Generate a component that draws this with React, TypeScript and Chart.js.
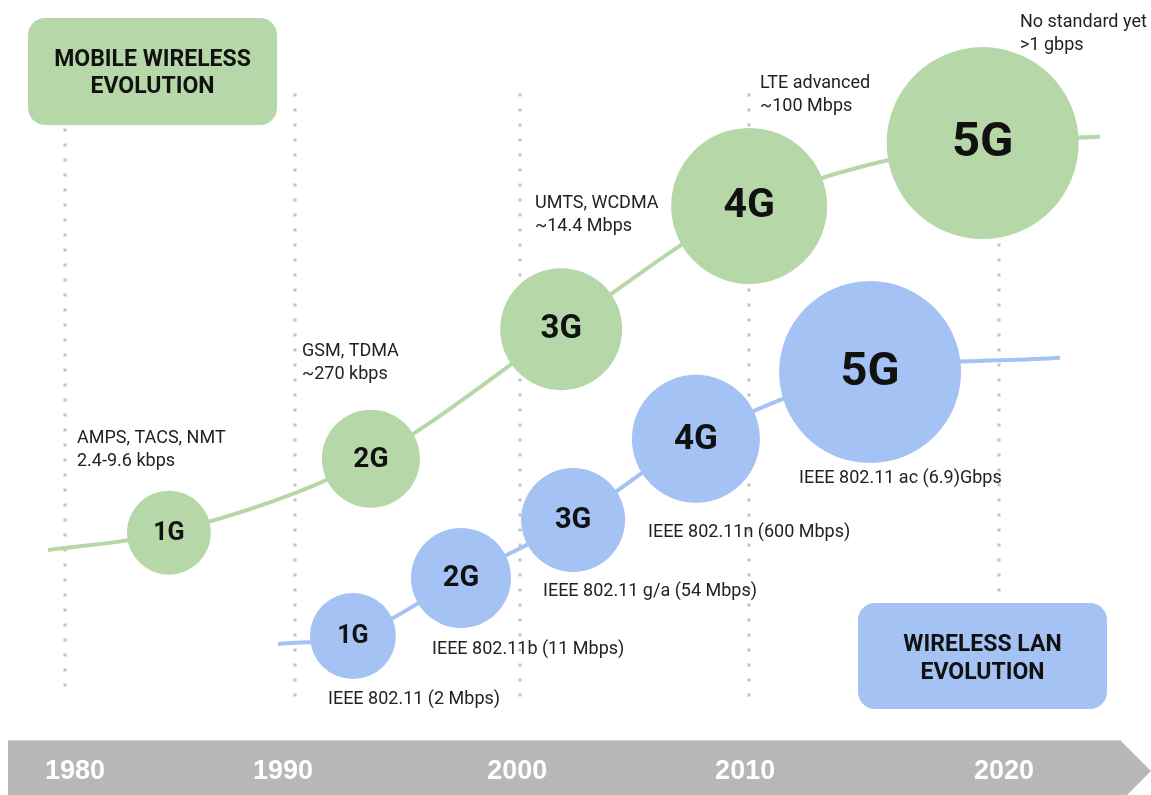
import React, { useEffect, useRef } from "react";
import { Chart, registerables } from "chart.js";

Chart.register(...registerables);

// ---------- DATA ----------
const yearTicks = [1980, 1990, 2000, 2010, 2020];

const mobileGenerations = ["1G", "2G", "3G", "4G", "5G"];
const mobileYears = [1984.45, 1993.1, 2001.25, 2009.3, 2019.3];
const mobileLevels = [33.0, 42.3, 58.6, 74.1, 82.0];
const mobileBubbleSizes = [42, 49, 61, 78, 96];
const mobileStandards = [
  ["AMPS, TACS, NMT", "2.4-9.6 kbps"],
  ["GSM, TDMA", "~270 kbps"],
  ["UMTS, WCDMA", "~14.4 Mbps"],
  ["LTE advanced", "~100 Mbps"],
  ["No standard yet", ">1 gbps"],
];
const mobileCurveYears = [1979.27, ...mobileYears, 2024.33];
const mobileCurveLevels = [30.8, ...mobileLevels, 82.8];

const wlanGenerations = ["1G", "2G", "3G", "4G", "5G"];
const wlanYears = [1992.33, 1996.96, 2001.76, 2007.02, 2014.48];
const wlanLevels = [20.0, 27.3, 34.6, 44.8, 53.2];
const wlanBubbleSizes = [43, 50, 52, 64, 91];
const wlanStandards = [
  "IEEE 802.11 (2 Mbps)",
  "IEEE 802.11b (11 Mbps)",
  "IEEE 802.11 g/a (54 Mbps)",
  "IEEE 802.11n (600 Mbps)",
  "IEEE 802.11 ac (6.9)Gbps",
];
const wlanCurveYears = [1989.12, ...wlanYears, 2022.61];
const wlanCurveLevels = [19.0, ...wlanLevels, 55.0];

// ---------- LAYOUT / STYLE ----------
const W = 1151;
const H = 795;
const GREEN = "#b6d7a8";
const BLUE = "#a4c2f4";
const X_MIN = 1977.216;
const X_MAX = 2026.51;

// guide lines (x in years, from/to in level units)
const guides = [
  { x: 1980, from: 83.6, to: 12.2 },
  { x: 1989.85, from: 88.0, to: 12.2 },
  { x: 1999.5, from: 88.0, to: 12.2 },
  { x: 2009.3, from: 88.0, to: 12.2 },
  { x: 2020, from: 69.2, to: 25.5 },
];
const yearLabelOffsets = [10, -12, -3, -4, 5];

// text anchors (pixels): left x, first baseline
const mobileTextPos = [
  [77, 443],
  [302, 356],
  [535, 208],
  [760, 88],
  [1020, 27],
];
const wlanTextPos = [
  [328, 704],
  [432, 654],
  [543, 596],
  [648, 537],
  [799, 483],
];

function toPoints(xs: number[], ys: number[], rs?: number[]) {
  return xs.map((x, i) => (rs ? { x, y: ys[i], r: rs[i] } : { x, y: ys[i] }));
}

const overlay = {
  id: "overlay",
  beforeDatasetsDraw(chart: any) {
    const ctx = chart.ctx as CanvasRenderingContext2D;
    const xs = chart.scales.x;
    const ys = chart.scales.y;
    ctx.save();
    // bottom timeline band
    ctx.fillStyle = "#b7b7b7";
    ctx.beginPath();
    ctx.moveTo(8, 741);
    ctx.lineTo(1121, 741);
    ctx.lineTo(1151, 771);
    ctx.lineTo(1121, 801);
    ctx.lineTo(8, 801);
    ctx.closePath();
    ctx.fill();
    ctx.fillStyle = "#cfcfcf";
    ctx.fillRect(8, 740, 1113, 1);

    // year labels
    ctx.fillStyle = "#ffffff";
    ctx.font = 'bold 27px "Liberation Sans Narrow", "Liberation Sans", Arial, sans-serif';
    ctx.textAlign = "center";
    ctx.textBaseline = "alphabetic";
    yearTicks.forEach((yr, i) => {
      const gx = xs.getPixelForValue(guides[i].x);
      ctx.fillText(String(yr), gx + yearLabelOffsets[i], 779);
    });

    // dotted guides
    ctx.fillStyle = "#c2c2c2";
    guides.forEach((g) => {
      const gx = xs.getPixelForValue(g.x);
      const y0 = ys.getPixelForValue(g.from);
      const y1 = ys.getPixelForValue(g.to);
      for (let y = y0; y <= y1; y += 15) {
        ctx.fillRect(Math.round(gx) - 1.5, Math.round(y) - 1.5, 3, 3);
      }
    });
    ctx.restore();
  },
  afterDatasetsDraw(chart: any) {
    const ctx = chart.ctx as CanvasRenderingContext2D;
    ctx.save();
    // bubble labels
    const drawBubbleLabels = (dsIndex: number, labels: string[]) => {
      const meta = chart.getDatasetMeta(dsIndex);
      meta.data.forEach((el: any, i: number) => {
        const r = el.options.radius;
        const fs = Math.round(0.45 * r + 6);
        ctx.font = `bold ${fs}px Roboto, sans-serif`;
        ctx.fillStyle = "#111111";
        ctx.textAlign = "center";
        ctx.textBaseline = "middle";
        ctx.fillText(labels[i], el.x, el.y + 1);
      });
    };
    drawBubbleLabels(0, mobileGenerations);
    drawBubbleLabels(1, wlanGenerations);

    // standards annotations
    ctx.font = "18px Roboto, sans-serif";
    ctx.fillStyle = "#222222";
    ctx.textAlign = "left";
    ctx.textBaseline = "alphabetic";
    mobileStandards.forEach((lines, i) => {
      const [x, y] = mobileTextPos[i];
      lines.forEach((t, k) => ctx.fillText(t, x, y + k * 22.5));
    });
    wlanStandards.forEach((t, i) => {
      const [x, y] = wlanTextPos[i];
      ctx.fillText(t, x, y);
    });

    // title boxes
    const box = (x: number, y: number, w: number, h: number, color: string, l1: string, l2: string, b1: number, b2: number) => {
      ctx.fillStyle = color;
      ctx.beginPath();
      (ctx as any).roundRect(x, y, w, h, 17);
      ctx.fill();
      ctx.fillStyle = "#111111";
      ctx.font = "bold 23px Roboto, sans-serif";
      ctx.textAlign = "center";
      ctx.textBaseline = "alphabetic";
      ctx.fillText(l1, x + w / 2, b1);
      ctx.fillText(l2, x + w / 2, b2);
    };
    box(28, 18, 249, 107, GREEN, "MOBILE WIRELESS", "EVOLUTION", 66, 93);
    box(858, 603, 249, 106, BLUE, "WIRELESS LAN", "EVOLUTION", 651, 679);
    ctx.restore();
  },
};

export default function App() {
  const ref = useRef<HTMLCanvasElement | null>(null);
  useEffect(() => {
    document.body.style.margin = "0";
    if (!ref.current) return;
    const chart = new Chart(ref.current, {
      type: "bubble",
      data: {
        datasets: [
          {
            type: "bubble",
            label: "Mobile wireless",
            data: toPoints(mobileYears, mobileLevels, mobileBubbleSizes) as any,
            backgroundColor: GREEN,
            borderWidth: 0,
            order: 0,
            clip: false,
          } as any,
          {
            type: "bubble",
            label: "Wireless LAN",
            data: toPoints(wlanYears, wlanLevels, wlanBubbleSizes) as any,
            backgroundColor: BLUE,
            borderWidth: 0,
            order: 0,
            clip: false,
          } as any,
          {
            type: "line",
            label: "Mobile curve",
            data: toPoints(mobileCurveYears, mobileCurveLevels) as any,
            borderColor: GREEN,
            borderWidth: 4,
            pointRadius: 0,
            cubicInterpolationMode: "monotone",
            fill: false,
            order: 2,
          } as any,
          {
            type: "line",
            label: "WLAN curve",
            data: toPoints(wlanCurveYears, wlanCurveLevels) as any,
            borderColor: BLUE,
            borderWidth: 4,
            pointRadius: 0,
            cubicInterpolationMode: "monotone",
            fill: false,
            order: 2,
          } as any,
        ],
      },
      options: {
        animation: false,
        responsive: false,
        events: [],
        layout: { padding: 0, autoPadding: false } as any,
        plugins: { legend: { display: false }, tooltip: { enabled: false } },
        scales: {
          x: { type: "linear", min: X_MIN, max: X_MAX, display: false },
          y: { type: "linear", min: 0, max: 100, display: false },
        },
      },
      plugins: [overlay],
    });
    return () => chart.destroy();
  }, []);
  return (
    <div style={{ width: W, height: H, background: "#fff" }}>
      <canvas ref={ref} width={W} height={H} style={{ display: "block" }} />
    </div>
  );
}
